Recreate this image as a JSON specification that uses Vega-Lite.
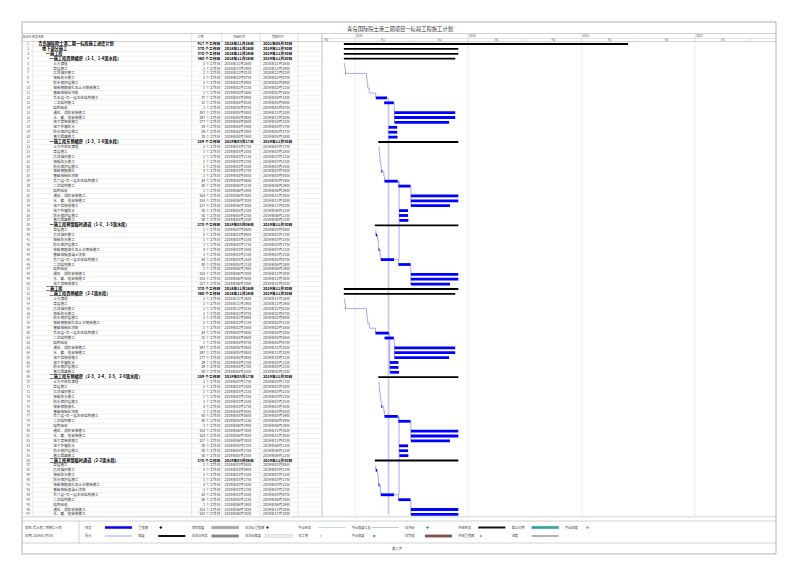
{
"$schema":"https://vega.github.io/schema/vega-lite/v6.json",
"width":800,"height":566,"autosize":{"type":"none"},"padding":0,"background":"white",
"config":{"view":{"stroke":null},"font":"Noto Sans CJK SC","text":{"font":"Noto Sans CJK SC"}},
"resolve":{"scale":{"x":"independent","y":"independent","color":"independent","strokeWidth":"independent"}},
"datasets":{
"tasks":[
{"row":1,"name":"青岛国际院士港二期一标段施工进度计划","lv":0,"dur":"917 个工作日","start":"2018-11-26","end":"2021-05-30","sum":true},
{"row":2,"name":"地下部分施工","lv":1,"dur":"370 个工作日","start":"2018-11-26","end":"2019-11-30","sum":true},
{"row":3,"name":"一施工段","lv":2,"dur":"370 个工作日","start":"2018-11-26","end":"2019-11-30","sum":true},
{"row":4,"name":"一施工段西侧裙房（1-1、1-4流水段）","lv":3,"dur":"360 个工作日","start":"2018-11-26","end":"2019-11-20","sum":true},
{"row":5,"name":"土方清理","lv":4,"dur":"1 个工作日","start":"2018-11-26","end":"2018-11-26","sum":false},
{"row":6,"name":"垫层施工","lv":4,"dur":"1 个工作日","start":"2018-11-29","end":"2018-11-29","sum":false},
{"row":7,"name":"抗浮锚杆施工","lv":4,"dur":"2 个工作日","start":"2018-12-01","end":"2018-12-02","sum":false},
{"row":8,"name":"筏板防水施工","lv":4,"dur":"1 个工作日","start":"2019-02-07","end":"2019-02-07","sum":false},
{"row":9,"name":"防水保护层施工","lv":4,"dur":"1 个工作日","start":"2019-02-09","end":"2019-02-09","sum":false},
{"row":10,"name":"筏板钢筋绑扎及止水钢板施工","lv":4,"dur":"1 个工作日","start":"2019-02-11","end":"2019-02-11","sum":false},
{"row":11,"name":"基础筏板砼浇筑","lv":4,"dur":"1 个工作日","start":"2019-02-16","end":"2019-02-16","sum":false},
{"row":12,"name":"负五层~负一层主体结构施工","lv":4,"dur":"37 个工作日","start":"2019-03-09","end":"2019-04-14","sum":false},
{"row":13,"name":"二次结构施工","lv":4,"dur":"32 个工作日","start":"2019-04-05","end":"2019-05-06","sum":false},
{"row":14,"name":"结构验收","lv":4,"dur":"1 个工作日","start":"2019-05-07","end":"2019-05-07","sum":false},
{"row":15,"name":"通风、消防安装施工","lv":4,"dur":"197 个工作日","start":"2019-05-08","end":"2019-11-20","sum":false},
{"row":16,"name":"水、暖、电安装施工","lv":4,"dur":"197 个工作日","start":"2019-05-08","end":"2019-11-20","sum":false},
{"row":17,"name":"地下室装修施工","lv":4,"dur":"177 个工作日","start":"2019-05-08","end":"2019-10-31","sum":false},
{"row":18,"name":"地下外墙防水","lv":4,"dur":"29 个工作日","start":"2019-04-19","end":"2019-05-17","sum":false},
{"row":19,"name":"防水保护层施工","lv":4,"dur":"29 个工作日","start":"2019-04-19","end":"2019-05-17","sum":false},
{"row":20,"name":"基坑回填施工","lv":4,"dur":"30 个工作日","start":"2019-04-19","end":"2019-05-18","sum":false},
{"row":21,"name":"一施工段东侧裙房（1-3、1-6流水段）","lv":3,"dur":"259 个工作日","start":"2019-03-17","end":"2019-11-30","sum":true},
{"row":22,"name":"土方开挖及清理","lv":4,"dur":"1 个工作日","start":"2019-03-17","end":"2019-03-17","sum":false},
{"row":23,"name":"垫层施工","lv":4,"dur":"1 个工作日","start":"2019-03-20","end":"2019-03-20","sum":false},
{"row":24,"name":"抗浮锚杆施工","lv":4,"dur":"1 个工作日","start":"2019-03-21","end":"2019-03-21","sum":false},
{"row":25,"name":"筏板防水施工","lv":4,"dur":"1 个工作日","start":"2019-03-23","end":"2019-03-23","sum":false},
{"row":26,"name":"防水保护层施工","lv":4,"dur":"1 个工作日","start":"2019-03-25","end":"2019-03-25","sum":false},
{"row":27,"name":"筏板钢筋绑扎","lv":4,"dur":"4 个工作日","start":"2019-03-27","end":"2019-03-30","sum":false},
{"row":28,"name":"基础筏板砼浇筑","lv":4,"dur":"1 个工作日","start":"2019-04-04","end":"2019-04-04","sum":false},
{"row":29,"name":"负六层~负一层主体结构施工","lv":4,"dur":"44 个工作日","start":"2019-04-06","end":"2019-05-19","sum":false},
{"row":30,"name":"二次结构施工","lv":4,"dur":"40 个工作日","start":"2019-05-21","end":"2019-06-29","sum":false},
{"row":31,"name":"结构验收","lv":4,"dur":"1 个工作日","start":"2019-06-29","end":"2019-06-29","sum":false},
{"row":32,"name":"通风、消防安装施工","lv":4,"dur":"154 个工作日","start":"2019-06-30","end":"2019-11-30","sum":false},
{"row":33,"name":"水、暖、电安装施工","lv":4,"dur":"154 个工作日","start":"2019-06-30","end":"2019-11-30","sum":false},
{"row":34,"name":"地下室装修施工","lv":4,"dur":"127 个工作日","start":"2019-06-30","end":"2019-11-03","sum":false},
{"row":35,"name":"地下外墙防水","lv":4,"dur":"30 个工作日","start":"2019-05-23","end":"2019-06-21","sum":false},
{"row":36,"name":"防水保护层施工","lv":4,"dur":"30 个工作日","start":"2019-05-23","end":"2019-06-21","sum":false},
{"row":37,"name":"基坑回填施工","lv":4,"dur":"30 个工作日","start":"2019-05-24","end":"2019-06-22","sum":false},
{"row":38,"name":"一施工段预留临时通道（1-2、1-5流水段）","lv":3,"dur":"270 个工作日","start":"2019-03-06","end":"2019-11-30","sum":true},
{"row":39,"name":"垫层施工","lv":4,"dur":"1 个工作日","start":"2019-03-08","end":"2019-03-08","sum":false},
{"row":40,"name":"抗浮锚杆施工","lv":4,"dur":"5 个工作日","start":"2019-03-09","end":"2019-03-13","sum":false},
{"row":41,"name":"筏板防水施工","lv":4,"dur":"1 个工作日","start":"2019-03-15","end":"2019-03-15","sum":false},
{"row":42,"name":"防水保护层施工","lv":4,"dur":"1 个工作日","start":"2019-03-17","end":"2019-03-17","sum":false},
{"row":43,"name":"筏板钢筋绑扎及止水钢板施工","lv":4,"dur":"4 个工作日","start":"2019-03-18","end":"2019-03-21","sum":false},
{"row":44,"name":"基础筏板混凝土浇筑","lv":4,"dur":"1 个工作日","start":"2019-03-23","end":"2019-03-23","sum":false},
{"row":45,"name":"负六层~负一层主体结构施工","lv":4,"dur":"44 个工作日","start":"2019-03-25","end":"2019-05-07","sum":false},
{"row":46,"name":"二次结构施工","lv":4,"dur":"40 个工作日","start":"2019-05-21","end":"2019-06-29","sum":false},
{"row":47,"name":"结构验收","lv":4,"dur":"1 个工作日","start":"2019-06-29","end":"2019-06-29","sum":false},
{"row":48,"name":"通风、消防安装施工","lv":4,"dur":"154 个工作日","start":"2019-06-30","end":"2019-11-30","sum":false},
{"row":49,"name":"水、暖、电安装施工","lv":4,"dur":"154 个工作日","start":"2019-06-30","end":"2019-11-30","sum":false},
{"row":50,"name":"地下室装修施工","lv":4,"dur":"127 个工作日","start":"2019-06-30","end":"2019-11-03","sum":false},
{"row":51,"name":"二施工段","lv":2,"dur":"370 个工作日","start":"2018-11-26","end":"2019-11-30","sum":true},
{"row":52,"name":"二施工段西侧裙房（2-1流水段）","lv":3,"dur":"360 个工作日","start":"2018-11-26","end":"2019-11-20","sum":true},
{"row":53,"name":"土方清理","lv":4,"dur":"1 个工作日","start":"2018-11-26","end":"2018-11-26","sum":false},
{"row":54,"name":"垫层施工","lv":4,"dur":"1 个工作日","start":"2018-11-29","end":"2018-11-29","sum":false},
{"row":55,"name":"抗浮锚杆施工","lv":4,"dur":"2 个工作日","start":"2018-12-01","end":"2018-12-02","sum":false},
{"row":56,"name":"筏板防水施工","lv":4,"dur":"1 个工作日","start":"2019-02-07","end":"2019-02-07","sum":false},
{"row":57,"name":"防水保护层施工","lv":4,"dur":"1 个工作日","start":"2019-02-09","end":"2019-02-09","sum":false},
{"row":58,"name":"筏板钢筋绑扎及止水钢板施工","lv":4,"dur":"1 个工作日","start":"2019-02-11","end":"2019-02-11","sum":false},
{"row":59,"name":"基础筏板砼浇筑","lv":4,"dur":"1 个工作日","start":"2019-02-16","end":"2019-02-16","sum":false},
{"row":60,"name":"负五层~负一层主体结构施工","lv":4,"dur":"44 个工作日","start":"2019-03-08","end":"2019-04-20","sum":false},
{"row":61,"name":"二次结构施工","lv":4,"dur":"32 个工作日","start":"2019-04-06","end":"2019-05-06","sum":false},
{"row":62,"name":"结构验收","lv":4,"dur":"1 个工作日","start":"2019-05-07","end":"2019-05-07","sum":false},
{"row":63,"name":"通风、消防安装施工","lv":4,"dur":"197 个工作日","start":"2019-05-08","end":"2019-11-20","sum":false},
{"row":64,"name":"水、暖、电安装施工","lv":4,"dur":"197 个工作日","start":"2019-05-08","end":"2019-11-20","sum":false},
{"row":65,"name":"地下室装修施工","lv":4,"dur":"177 个工作日","start":"2019-05-08","end":"2019-10-31","sum":false},
{"row":66,"name":"地下外墙防水","lv":4,"dur":"29 个工作日","start":"2019-04-23","end":"2019-05-21","sum":false},
{"row":67,"name":"防水保护层施工","lv":4,"dur":"29 个工作日","start":"2019-04-23","end":"2019-05-21","sum":false},
{"row":68,"name":"基坑回填施工","lv":4,"dur":"30 个工作日","start":"2019-04-24","end":"2019-05-23","sum":false},
{"row":69,"name":"二施工段东侧裙房（2-3、2-4、2-5、2-6流水段）","lv":3,"dur":"259 个工作日","start":"2019-03-17","end":"2019-11-30","sum":true},
{"row":70,"name":"土方开挖及清理","lv":4,"dur":"1 个工作日","start":"2019-03-17","end":"2019-03-17","sum":false},
{"row":71,"name":"垫层施工","lv":4,"dur":"1 个工作日","start":"2019-03-20","end":"2019-03-20","sum":false},
{"row":72,"name":"抗浮锚杆施工","lv":4,"dur":"1 个工作日","start":"2019-03-21","end":"2019-03-21","sum":false},
{"row":73,"name":"筏板防水施工","lv":4,"dur":"1 个工作日","start":"2019-03-23","end":"2019-03-23","sum":false},
{"row":74,"name":"防水保护层施工","lv":4,"dur":"1 个工作日","start":"2019-03-25","end":"2019-03-25","sum":false},
{"row":75,"name":"筏板钢筋绑扎","lv":4,"dur":"4 个工作日","start":"2019-03-27","end":"2019-03-30","sum":false},
{"row":76,"name":"基础筏板砼浇筑","lv":4,"dur":"1 个工作日","start":"2019-04-04","end":"2019-04-04","sum":false},
{"row":77,"name":"负六层~负一层主体结构施工","lv":4,"dur":"44 个工作日","start":"2019-04-06","end":"2019-05-19","sum":false},
{"row":78,"name":"二次结构施工","lv":4,"dur":"40 个工作日","start":"2019-05-21","end":"2019-06-29","sum":false},
{"row":79,"name":"结构验收","lv":4,"dur":"1 个工作日","start":"2019-06-29","end":"2019-06-29","sum":false},
{"row":80,"name":"通风、消防安装施工","lv":4,"dur":"154 个工作日","start":"2019-06-30","end":"2019-11-30","sum":false},
{"row":81,"name":"水、暖、电安装施工","lv":4,"dur":"154 个工作日","start":"2019-06-30","end":"2019-11-30","sum":false},
{"row":82,"name":"地下室装修施工","lv":4,"dur":"127 个工作日","start":"2019-06-30","end":"2019-11-03","sum":false},
{"row":83,"name":"地下外墙防水","lv":4,"dur":"30 个工作日","start":"2019-05-23","end":"2019-06-21","sum":false},
{"row":84,"name":"防水保护层施工","lv":4,"dur":"30 个工作日","start":"2019-05-23","end":"2019-06-21","sum":false},
{"row":85,"name":"基坑回填施工","lv":4,"dur":"30 个工作日","start":"2019-05-24","end":"2019-06-22","sum":false},
{"row":86,"name":"二施工段预留临时通道（2-2流水段）","lv":3,"dur":"270 个工作日","start":"2019-03-06","end":"2019-11-30","sum":true},
{"row":87,"name":"垫层施工","lv":4,"dur":"1 个工作日","start":"2019-03-08","end":"2019-03-08","sum":false},
{"row":88,"name":"抗浮锚杆施工","lv":4,"dur":"5 个工作日","start":"2019-03-09","end":"2019-03-13","sum":false},
{"row":89,"name":"筏板防水施工","lv":4,"dur":"1 个工作日","start":"2019-03-15","end":"2019-03-15","sum":false},
{"row":90,"name":"防水保护层施工","lv":4,"dur":"1 个工作日","start":"2019-03-17","end":"2019-03-17","sum":false},
{"row":91,"name":"筏板钢筋绑扎及止水钢板施工","lv":4,"dur":"4 个工作日","start":"2019-03-18","end":"2019-03-21","sum":false},
{"row":92,"name":"基础筏板混凝土浇筑","lv":4,"dur":"1 个工作日","start":"2019-03-23","end":"2019-03-23","sum":false},
{"row":93,"name":"负六层~负一层主体结构施工","lv":4,"dur":"44 个工作日","start":"2019-03-25","end":"2019-05-07","sum":false},
{"row":94,"name":"二次结构施工","lv":4,"dur":"40 个工作日","start":"2019-05-21","end":"2019-06-29","sum":false},
{"row":95,"name":"结构验收","lv":4,"dur":"1 个工作日","start":"2019-06-29","end":"2019-06-29","sum":false},
{"row":96,"name":"通风、消防安装施工","lv":4,"dur":"154 个工作日","start":"2019-06-30","end":"2019-11-30","sum":false},
{"row":97,"name":"水、暖、电安装施工","lv":4,"dur":"154 个工作日","start":"2019-06-30","end":"2019-11-30","sum":false}
],
"links":[
{"d1":"2018-11-27","d2":"2018-11-29","r1":5,"r2":6,"k":"a"},
{"d1":"2018-11-30","d2":"2018-12-01","r1":6,"r2":7,"k":"a"},
{"d1":"2018-12-03","d2":"2019-02-07","r1":7,"r2":8,"k":"a"},
{"d1":"2019-02-08","d2":"2019-02-09","r1":8,"r2":9,"k":"a"},
{"d1":"2019-02-10","d2":"2019-02-11","r1":9,"r2":10,"k":"a"},
{"d1":"2019-02-12","d2":"2019-02-16","r1":10,"r2":11,"k":"a"},
{"d1":"2019-02-17","d2":"2019-03-09","r1":11,"r2":12,"k":"a"},
{"d1":"2019-05-07","d2":"2019-05-07","r1":13,"r2":14,"k":"a"},
{"d1":"2019-05-08","d2":"2019-05-08","r1":14,"r2":17,"k":"a"},
{"d1":"2019-04-15","d2":"2019-04-19","r1":12,"r2":97,"k":"b"},
{"d1":"2019-03-18","d2":"2019-03-20","r1":22,"r2":23,"k":"a"},
{"d1":"2019-03-21","d2":"2019-03-21","r1":23,"r2":24,"k":"a"},
{"d1":"2019-03-22","d2":"2019-03-23","r1":24,"r2":25,"k":"a"},
{"d1":"2019-03-24","d2":"2019-03-25","r1":25,"r2":26,"k":"a"},
{"d1":"2019-03-26","d2":"2019-03-27","r1":26,"r2":27,"k":"a"},
{"d1":"2019-03-31","d2":"2019-04-04","r1":27,"r2":28,"k":"a"},
{"d1":"2019-04-05","d2":"2019-04-06","r1":28,"r2":29,"k":"a"},
{"d1":"2019-05-20","d2":"2019-05-21","r1":29,"r2":30,"k":"a"},
{"d1":"2019-06-30","d2":"2019-06-30","r1":30,"r2":31,"k":"a"},
{"d1":"2019-06-30","d2":"2019-06-30","r1":31,"r2":34,"k":"a"},
{"d1":"2019-05-20","d2":"2019-05-23","r1":29,"r2":45,"k":"a"},
{"d1":"2019-03-09","d2":"2019-03-09","r1":39,"r2":40,"k":"a"},
{"d1":"2019-03-14","d2":"2019-03-15","r1":40,"r2":41,"k":"a"},
{"d1":"2019-03-16","d2":"2019-03-17","r1":41,"r2":42,"k":"a"},
{"d1":"2019-03-18","d2":"2019-03-18","r1":42,"r2":43,"k":"a"},
{"d1":"2019-03-22","d2":"2019-03-23","r1":43,"r2":44,"k":"a"},
{"d1":"2019-03-24","d2":"2019-03-25","r1":44,"r2":45,"k":"a"},
{"d1":"2019-05-08","d2":"2019-05-21","r1":45,"r2":46,"k":"a"},
{"d1":"2019-06-30","d2":"2019-06-30","r1":46,"r2":47,"k":"a"},
{"d1":"2019-06-30","d2":"2019-06-30","r1":47,"r2":50,"k":"a"},
{"d1":"2018-11-27","d2":"2018-11-29","r1":53,"r2":54,"k":"a"},
{"d1":"2018-11-30","d2":"2018-12-01","r1":54,"r2":55,"k":"a"},
{"d1":"2018-12-03","d2":"2019-02-07","r1":55,"r2":56,"k":"a"},
{"d1":"2019-02-08","d2":"2019-02-09","r1":56,"r2":57,"k":"a"},
{"d1":"2019-02-10","d2":"2019-02-11","r1":57,"r2":58,"k":"a"},
{"d1":"2019-02-12","d2":"2019-02-16","r1":58,"r2":59,"k":"a"},
{"d1":"2019-02-17","d2":"2019-03-08","r1":59,"r2":60,"k":"a"},
{"d1":"2019-05-07","d2":"2019-05-07","r1":61,"r2":62,"k":"a"},
{"d1":"2019-05-08","d2":"2019-05-08","r1":62,"r2":65,"k":"a"},
{"d1":"2019-04-21","d2":"2019-04-23","r1":60,"r2":68,"k":"a"},
{"d1":"2019-03-18","d2":"2019-03-20","r1":70,"r2":71,"k":"a"},
{"d1":"2019-03-21","d2":"2019-03-21","r1":71,"r2":72,"k":"a"},
{"d1":"2019-03-22","d2":"2019-03-23","r1":72,"r2":73,"k":"a"},
{"d1":"2019-03-24","d2":"2019-03-25","r1":73,"r2":74,"k":"a"},
{"d1":"2019-03-26","d2":"2019-03-27","r1":74,"r2":75,"k":"a"},
{"d1":"2019-03-31","d2":"2019-04-04","r1":75,"r2":76,"k":"a"},
{"d1":"2019-04-05","d2":"2019-04-06","r1":76,"r2":77,"k":"a"},
{"d1":"2019-05-20","d2":"2019-05-21","r1":77,"r2":78,"k":"a"},
{"d1":"2019-06-30","d2":"2019-06-30","r1":78,"r2":79,"k":"a"},
{"d1":"2019-06-30","d2":"2019-06-30","r1":79,"r2":82,"k":"a"},
{"d1":"2019-05-20","d2":"2019-05-23","r1":77,"r2":93,"k":"a"},
{"d1":"2019-03-09","d2":"2019-03-09","r1":87,"r2":88,"k":"a"},
{"d1":"2019-03-14","d2":"2019-03-15","r1":88,"r2":89,"k":"a"},
{"d1":"2019-03-16","d2":"2019-03-17","r1":89,"r2":90,"k":"a"},
{"d1":"2019-03-18","d2":"2019-03-18","r1":90,"r2":91,"k":"a"},
{"d1":"2019-03-22","d2":"2019-03-23","r1":91,"r2":92,"k":"a"},
{"d1":"2019-03-24","d2":"2019-03-25","r1":92,"r2":93,"k":"a"},
{"d1":"2019-05-08","d2":"2019-05-21","r1":93,"r2":94,"k":"a"},
{"d1":"2019-06-30","d2":"2019-06-30","r1":94,"r2":95,"k":"a"},
{"d1":"2019-06-30","d2":"2019-06-30","r1":95,"r2":97,"k":"a"}
],
"years":[{"d":"2019-01-01","yr":"2019"},{"d":"2020-01-01","yr":"2020"},{"d":"2021-01-01","yr":"2021"},{"d":"2022-01-01","yr":"2022"}],
"halves":[{"d":"2018-10-01","h":"H2"},{"d":"2019-04-01","h":"H1"},{"d":"2019-10-01","h":"H2"},{"d":"2020-04-01","h":"H1"},{"d":"2020-10-01","h":"H2"},{"d":"2021-04-01","h":"H1"},{"d":"2021-10-01","h":"H2"},{"d":"2022-04-01","h":"H1"}],
"halfb":[{"d":"2019-07-01"},{"d":"2020-07-01"},{"d":"2021-07-01"},{"d":"2022-07-01"}],
"legend":[
{"c":0,"lr":1,"label":"任务","sym":"bar"},
{"c":0,"lr":2,"label":"拆分","sym":"dot"},
{"c":1,"lr":1,"label":"里程碑","sym":"dia"},
{"c":1,"lr":2,"label":"摘要","sym":"sum"},
{"c":2,"lr":1,"label":"项目摘要","sym":"bar"},
{"c":2,"lr":2,"label":"非活动任务","sym":"bar"},
{"c":3,"lr":1,"label":"非活动里程碑","sym":"dia"},
{"c":3,"lr":2,"label":"非活动摘要","sym":"bar"},
{"c":4,"lr":1,"label":"手动任务","sym":"dot"},
{"c":4,"lr":2,"label":"仅工期","sym":"dia"},
{"c":5,"lr":1,"label":"手动摘要汇总","sym":"dot"},
{"c":5,"lr":2,"label":"手动摘要","sym":"dia"},
{"c":6,"lr":1,"label":"仅开始","sym":"dia"},
{"c":6,"lr":2,"label":"仅完成","sym":"bar"},
{"c":7,"lr":1,"label":"外部任务","sym":"sum"},
{"c":7,"lr":2,"label":"外部里程碑","sym":"dia"},
{"c":8,"lr":1,"label":"截止日期","sym":"bar"},
{"c":8,"lr":2,"label":"进度","sym":"line"},
{"c":9,"lr":1,"label":"手动进度","sym":"dia"}
],
"info":[{"lr":1,"t":"项目: 院士港二期施工计划"},{"lr":2,"t":"日期: 2019年1月5日"}]
},
"layer":[
{"data":{"values":[{}]},"mark":{"type":"rect","fill":"transparent","stroke":"#a0a0a0","strokeWidth":0.8},"encoding":{"x":{"datum":22,"type":"quantitative","scale":{"domain":[0,800],"nice":false,"zero":false},"axis":null},"x2":{"datum":776},"y":{"datum":-3.49,"type":"quantitative","scale":{"domain":[-7.9796,107.5306],"reverse":true,"nice":false,"zero":false},"axis":null},"y2":{"datum":105.08}}},
{"data":{"values":[{}]},"mark":{"type":"rule","color":"#b4b4b4","strokeWidth":0.6},"encoding":{"x":{"datum":22,"type":"quantitative","scale":{"domain":[0,800],"nice":false,"zero":false},"axis":null},"x2":{"datum":776},"y":{"datum":-1.143,"type":"quantitative","scale":{"domain":[-7.9796,107.5306],"reverse":true,"nice":false,"zero":false},"axis":null}}},
{"data":{"values":[{}]},"mark":{"type":"rule","color":"#b4b4b4","strokeWidth":0.6},"encoding":{"x":{"datum":22,"type":"quantitative","scale":{"domain":[0,800],"nice":false,"zero":false},"axis":null},"x2":{"datum":776},"y":{"datum":0.49,"type":"quantitative","scale":{"domain":[-7.9796,107.5306],"reverse":true,"nice":false,"zero":false},"axis":null}}},
{"data":{"values":[{}]},"mark":{"type":"rule","color":"#c8c8c8","strokeWidth":0.5},"encoding":{"x":{"datum":322,"type":"quantitative","scale":{"domain":[0,800],"nice":false,"zero":false},"axis":null},"x2":{"datum":776},"y":{"datum":-0.122,"type":"quantitative","scale":{"domain":[-7.9796,107.5306],"reverse":true,"nice":false,"zero":false},"axis":null}}},
{"data":{"values":[{}]},"mark":{"type":"rule","color":"#b4b4b4","strokeWidth":0.6},"encoding":{"x":{"datum":22,"type":"quantitative","scale":{"domain":[0,800],"nice":false,"zero":false},"axis":null},"x2":{"datum":776},"y":{"datum":97.5,"type":"quantitative","scale":{"domain":[-7.9796,107.5306],"reverse":true,"nice":false,"zero":false},"axis":null}}},
{"data":{"values":[{}]},"mark":{"type":"rule","color":"#b4b4b4","strokeWidth":0.6},"encoding":{"x":{"datum":22,"type":"quantitative","scale":{"domain":[0,800],"nice":false,"zero":false},"axis":null},"x2":{"datum":776},"y":{"datum":98.35,"type":"quantitative","scale":{"domain":[-7.9796,107.5306],"reverse":true,"nice":false,"zero":false},"axis":null}}},
{"data":{"values":[{}]},"mark":{"type":"rule","color":"#b4b4b4","strokeWidth":0.6},"encoding":{"x":{"datum":22,"type":"quantitative","scale":{"domain":[0,800],"nice":false,"zero":false},"axis":null},"x2":{"datum":776},"y":{"datum":102.84,"type":"quantitative","scale":{"domain":[-7.9796,107.5306],"reverse":true,"nice":false,"zero":false},"axis":null}}},
{"data":{"values":[{}]},"mark":{"type":"rule","color":"#c8c8c8","strokeWidth":0.5},"encoding":{"x":{"datum":33,"type":"quantitative","scale":{"domain":[0,800],"nice":false,"zero":false},"axis":null},"y":{"datum":-1.143,"type":"quantitative","scale":{"domain":[-7.9796,107.5306],"reverse":true,"nice":false,"zero":false},"axis":null},"y2":{"datum":97.5}}},
{"data":{"values":[{}]},"mark":{"type":"rule","color":"#c8c8c8","strokeWidth":0.5},"encoding":{"x":{"datum":191.7,"type":"quantitative","scale":{"domain":[0,800],"nice":false,"zero":false},"axis":null},"y":{"datum":-1.143,"type":"quantitative","scale":{"domain":[-7.9796,107.5306],"reverse":true,"nice":false,"zero":false},"axis":null},"y2":{"datum":97.5}}},
{"data":{"values":[{}]},"mark":{"type":"rule","color":"#c8c8c8","strokeWidth":0.5},"encoding":{"x":{"datum":221.7,"type":"quantitative","scale":{"domain":[0,800],"nice":false,"zero":false},"axis":null},"y":{"datum":-1.143,"type":"quantitative","scale":{"domain":[-7.9796,107.5306],"reverse":true,"nice":false,"zero":false},"axis":null},"y2":{"datum":97.5}}},
{"data":{"values":[{}]},"mark":{"type":"rule","color":"#c8c8c8","strokeWidth":0.5},"encoding":{"x":{"datum":260,"type":"quantitative","scale":{"domain":[0,800],"nice":false,"zero":false},"axis":null},"y":{"datum":-1.143,"type":"quantitative","scale":{"domain":[-7.9796,107.5306],"reverse":true,"nice":false,"zero":false},"axis":null},"y2":{"datum":97.5}}},
{"data":{"values":[{}]},"mark":{"type":"rule","color":"#c8c8c8","strokeWidth":0.5},"encoding":{"x":{"datum":298,"type":"quantitative","scale":{"domain":[0,800],"nice":false,"zero":false},"axis":null},"y":{"datum":-1.143,"type":"quantitative","scale":{"domain":[-7.9796,107.5306],"reverse":true,"nice":false,"zero":false},"axis":null},"y2":{"datum":97.5}}},
{"data":{"values":[{}]},"mark":{"type":"rule","color":"#a8a8a8","strokeWidth":0.7},"encoding":{"x":{"datum":322,"type":"quantitative","scale":{"domain":[0,800],"nice":false,"zero":false},"axis":null},"y":{"datum":-1.143,"type":"quantitative","scale":{"domain":[-7.9796,107.5306],"reverse":true,"nice":false,"zero":false},"axis":null},"y2":{"datum":97.5}}},
{"data":{"values":[{}]},"mark":{"type":"rule","color":"#b4b4b4","strokeWidth":0.6},"encoding":{"x":{"datum":79,"type":"quantitative","scale":{"domain":[0,800],"nice":false,"zero":false},"axis":null},"y":{"datum":98.35,"type":"quantitative","scale":{"domain":[-7.9796,107.5306],"reverse":true,"nice":false,"zero":false},"axis":null},"y2":{"datum":102.84}}},
{"data":{"values":[{}]},"mark":{"type":"text","fontSize":5.3,"color":"#333","align":"center","baseline":"middle"},"encoding":{"x":{"datum":400,"type":"quantitative","scale":{"domain":[0,800],"nice":false,"zero":false},"axis":null},"y":{"datum":-1.96,"type":"quantitative","scale":{"domain":[-7.9796,107.5306],"reverse":true,"nice":false,"zero":false},"axis":null},"text":{"value":"青岛国际院士港二期项目一标段工程施工计划"}}},
{"data":{"values":[{}]},"mark":{"type":"text","fontSize":2.9,"color":"#444","align":"left","baseline":"middle"},"encoding":{"x":{"datum":22.8,"type":"quantitative","scale":{"domain":[0,800],"nice":false,"zero":false},"axis":null},"y":{"datum":-0.33,"type":"quantitative","scale":{"domain":[-7.9796,107.5306],"reverse":true,"nice":false,"zero":false},"axis":null},"text":{"value":"标识号 任务名称"}}},
{"data":{"values":[{}]},"mark":{"type":"text","fontSize":2.9,"color":"#444","align":"center","baseline":"middle"},"encoding":{"x":{"datum":200.5,"type":"quantitative","scale":{"domain":[0,800],"nice":false,"zero":false},"axis":null},"y":{"datum":-0.33,"type":"quantitative","scale":{"domain":[-7.9796,107.5306],"reverse":true,"nice":false,"zero":false},"axis":null},"text":{"value":"工期"}}},
{"data":{"values":[{}]},"mark":{"type":"text","fontSize":2.9,"color":"#444","align":"center","baseline":"middle"},"encoding":{"x":{"datum":239,"type":"quantitative","scale":{"domain":[0,800],"nice":false,"zero":false},"axis":null},"y":{"datum":-0.33,"type":"quantitative","scale":{"domain":[-7.9796,107.5306],"reverse":true,"nice":false,"zero":false},"axis":null},"text":{"value":"开始时间"}}},
{"data":{"values":[{}]},"mark":{"type":"text","fontSize":2.9,"color":"#444","align":"center","baseline":"middle"},"encoding":{"x":{"datum":277.5,"type":"quantitative","scale":{"domain":[0,800],"nice":false,"zero":false},"axis":null},"y":{"datum":-0.33,"type":"quantitative","scale":{"domain":[-7.9796,107.5306],"reverse":true,"nice":false,"zero":false},"axis":null},"text":{"value":"完成时间"}}},
{"data":{"name":"tasks"},"mark":{"type":"rule","color":"#e2e2e2","strokeWidth":0.5,"yOffset":2.45},"encoding":{"x":{"datum":22,"type":"quantitative","scale":{"domain":[0,800],"nice":false,"zero":false},"axis":null},"x2":{"datum":322},"y":{"field":"row","type":"quantitative","scale":{"domain":[-7.9796,107.5306],"reverse":true,"nice":false,"zero":false},"axis":null}}},
{"data":{"name":"tasks"},"mark":{"type":"text","fontSize":3.2,"color":"#555","align":"center","baseline":"middle"},"encoding":{"x":{"datum":28.2,"type":"quantitative","scale":{"domain":[0,800],"nice":false,"zero":false},"axis":null},"y":{"field":"row","type":"quantitative","scale":{"domain":[-7.9796,107.5306],"reverse":true,"nice":false,"zero":false},"axis":null},"text":{"field":"row","type":"quantitative"}}},
{"data":{"name":"tasks"},"transform":[{"filter":"!datum.sum"}],"mark":{"type":"text","fontSize":3.6,"color":"#333","align":"left","baseline":"middle"},"encoding":{"x":{"field":"lv","type":"quantitative","scale":{"domain":[0,4],"range":[38.3,53.2],"nice":false,"zero":false},"axis":null},"y":{"field":"row","type":"quantitative","scale":{"domain":[-7.9796,107.5306],"reverse":true,"nice":false,"zero":false},"axis":null},"text":{"field":"name","type":"nominal"}}},
{"data":{"name":"tasks"},"transform":[{"filter":"datum.sum"}],"mark":{"type":"text","fontSize":4.2,"fontWeight":"bold","color":"#000","align":"left","baseline":"middle"},"encoding":{"x":{"field":"lv","type":"quantitative","scale":{"domain":[0,4],"range":[38.3,53.2],"nice":false,"zero":false},"axis":null},"y":{"field":"row","type":"quantitative","scale":{"domain":[-7.9796,107.5306],"reverse":true,"nice":false,"zero":false},"axis":null},"text":{"field":"name","type":"nominal"}}},
{"data":{"name":"tasks"},"transform":[{"filter":"!datum.sum"}],"mark":{"type":"text","fontSize":3.6,"color":"#333","align":"right","baseline":"middle"},"encoding":{"x":{"datum":220.3,"type":"quantitative","scale":{"domain":[0,800],"nice":false,"zero":false},"axis":null},"y":{"field":"row","type":"quantitative","scale":{"domain":[-7.9796,107.5306],"reverse":true,"nice":false,"zero":false},"axis":null},"text":{"field":"dur","type":"nominal"}}},
{"data":{"name":"tasks"},"transform":[{"filter":"datum.sum"}],"mark":{"type":"text","fontSize":3.8,"fontWeight":"bold","color":"#000","align":"right","baseline":"middle"},"encoding":{"x":{"datum":220.3,"type":"quantitative","scale":{"domain":[0,800],"nice":false,"zero":false},"axis":null},"y":{"field":"row","type":"quantitative","scale":{"domain":[-7.9796,107.5306],"reverse":true,"nice":false,"zero":false},"axis":null},"text":{"field":"dur","type":"nominal"}}},
{"data":{"name":"tasks"},"transform":[{"filter":"!datum.sum"}],"mark":{"type":"text","fontSize":3.6,"color":"#333","align":"left","baseline":"middle"},"encoding":{"x":{"datum":224.5,"type":"quantitative","scale":{"domain":[0,800],"nice":false,"zero":false},"axis":null},"y":{"field":"row","type":"quantitative","scale":{"domain":[-7.9796,107.5306],"reverse":true,"nice":false,"zero":false},"axis":null},"text":{"field":"start","type":"temporal","timeUnit":"utcyearmonthdate","format":"%Y年%m月%d日"}}},
{"data":{"name":"tasks"},"transform":[{"filter":"datum.sum"}],"mark":{"type":"text","fontSize":3.8,"fontWeight":"bold","color":"#000","align":"left","baseline":"middle"},"encoding":{"x":{"datum":224.5,"type":"quantitative","scale":{"domain":[0,800],"nice":false,"zero":false},"axis":null},"y":{"field":"row","type":"quantitative","scale":{"domain":[-7.9796,107.5306],"reverse":true,"nice":false,"zero":false},"axis":null},"text":{"field":"start","type":"temporal","timeUnit":"utcyearmonthdate","format":"%Y年%m月%d日"}}},
{"data":{"name":"tasks"},"transform":[{"filter":"!datum.sum"}],"mark":{"type":"text","fontSize":3.6,"color":"#333","align":"left","baseline":"middle"},"encoding":{"x":{"datum":263,"type":"quantitative","scale":{"domain":[0,800],"nice":false,"zero":false},"axis":null},"y":{"field":"row","type":"quantitative","scale":{"domain":[-7.9796,107.5306],"reverse":true,"nice":false,"zero":false},"axis":null},"text":{"field":"end","type":"temporal","timeUnit":"utcyearmonthdate","format":"%Y年%m月%d日"}}},
{"data":{"name":"tasks"},"transform":[{"filter":"datum.sum"}],"mark":{"type":"text","fontSize":3.8,"fontWeight":"bold","color":"#000","align":"left","baseline":"middle"},"encoding":{"x":{"datum":263,"type":"quantitative","scale":{"domain":[0,800],"nice":false,"zero":false},"axis":null},"y":{"field":"row","type":"quantitative","scale":{"domain":[-7.9796,107.5306],"reverse":true,"nice":false,"zero":false},"axis":null},"text":{"field":"end","type":"temporal","timeUnit":"utcyearmonthdate","format":"%Y年%m月%d日"}}},
{"data":{"name":"years"},"mark":{"type":"rule","color":"#c4c4c4","strokeWidth":0.6,"strokeDash":[2,2]},"encoding":{"x":{"field":"d","type":"temporal","scale":{"type":"utc","domain":[{"year":2015,"month":11,"date":14,"utc":true},{"year":2022,"month":12,"date":5,"utc":true}],"nice":false},"axis":null},"y":{"datum":0.49,"type":"quantitative","scale":{"domain":[-7.9796,107.5306],"reverse":true,"nice":false,"zero":false},"axis":null},"y2":{"datum":97.5}}},
{"data":{"name":"years"},"mark":{"type":"rule","color":"#c0c0c0","strokeWidth":0.5},"encoding":{"x":{"field":"d","type":"temporal","scale":{"type":"utc","domain":[{"year":2015,"month":11,"date":14,"utc":true},{"year":2022,"month":12,"date":5,"utc":true}],"nice":false},"axis":null},"y":{"datum":-1.143,"type":"quantitative","scale":{"domain":[-7.9796,107.5306],"reverse":true,"nice":false,"zero":false},"axis":null},"y2":{"datum":0.49}}},
{"data":{"name":"halfb"},"mark":{"type":"rule","color":"#c8c8c8","strokeWidth":0.5},"encoding":{"x":{"field":"d","type":"temporal","scale":{"type":"utc","domain":[{"year":2015,"month":11,"date":14,"utc":true},{"year":2022,"month":12,"date":5,"utc":true}],"nice":false},"axis":null},"y":{"datum":-0.122,"type":"quantitative","scale":{"domain":[-7.9796,107.5306],"reverse":true,"nice":false,"zero":false},"axis":null},"y2":{"datum":0.49}}},
{"data":{"name":"years"},"mark":{"type":"text","fontSize":2.9,"color":"#555","align":"left","baseline":"middle","dx":1},"encoding":{"x":{"field":"d","type":"temporal","scale":{"type":"utc","domain":[{"year":2015,"month":11,"date":14,"utc":true},{"year":2022,"month":12,"date":5,"utc":true}],"nice":false},"axis":null},"y":{"datum":-0.6,"type":"quantitative","scale":{"domain":[-7.9796,107.5306],"reverse":true,"nice":false,"zero":false},"axis":null},"text":{"field":"yr","type":"nominal"}}},
{"data":{"name":"halves"},"mark":{"type":"text","fontSize":2.9,"color":"#555","align":"center","baseline":"middle"},"encoding":{"x":{"field":"d","type":"temporal","scale":{"type":"utc","domain":[{"year":2015,"month":11,"date":14,"utc":true},{"year":2022,"month":12,"date":5,"utc":true}],"nice":false},"axis":null},"y":{"datum":0.2,"type":"quantitative","scale":{"domain":[-7.9796,107.5306],"reverse":true,"nice":false,"zero":false},"axis":null},"text":{"field":"h","type":"nominal"}}},
{"data":{"name":"links"},"mark":{"type":"rule"},"encoding":{"x":{"field":"d1","type":"temporal","scale":{"type":"utc","domain":[{"year":2015,"month":11,"date":14,"utc":true},{"year":2022,"month":12,"date":5,"utc":true}],"nice":false},"axis":null},"x2":{"field":"d2"},"y":{"field":"r1","type":"quantitative","scale":{"domain":[-7.9796,107.5306],"reverse":true,"nice":false,"zero":false},"axis":null},"color":{"field":"k","type":"nominal","scale":{"domain":["a","b"],"range":["#6c6cee","#cacaf4"]},"legend":null},"strokeWidth":{"field":"k","type":"nominal","scale":{"domain":["a","b"],"range":[0.6,1.8]},"legend":null}}},
{"data":{"name":"links"},"mark":{"type":"rule"},"encoding":{"x":{"field":"d2","type":"temporal","scale":{"type":"utc","domain":[{"year":2015,"month":11,"date":14,"utc":true},{"year":2022,"month":12,"date":5,"utc":true}],"nice":false},"axis":null},"y":{"field":"r1","type":"quantitative","scale":{"domain":[-7.9796,107.5306],"reverse":true,"nice":false,"zero":false},"axis":null},"y2":{"field":"r2"},"color":{"field":"k","type":"nominal","scale":{"domain":["a","b"],"range":["#6c6cee","#cacaf4"]},"legend":null},"strokeWidth":{"field":"k","type":"nominal","scale":{"domain":["a","b"],"range":[0.6,1.8]},"legend":null}}},
{"data":{"name":"tasks"},"transform":[{"filter":"!datum.sum"}],"mark":{"type":"rule","color":"#0000ff","strokeWidth":2.8},"encoding":{"x":{"field":"start","type":"temporal","timeUnit":"utcyearmonthdate","bandPosition":0,"scale":{"type":"utc","domain":[{"year":2015,"month":11,"date":14,"utc":true},{"year":2022,"month":12,"date":5,"utc":true}],"nice":false},"axis":null},"x2":{"field":"end","timeUnit":"utcyearmonthdate","bandPosition":1},"y":{"field":"row","type":"quantitative","scale":{"domain":[-7.9796,107.5306],"reverse":true,"nice":false,"zero":false},"axis":null}}},
{"data":{"name":"tasks"},"transform":[{"filter":"datum.sum"}],"mark":{"type":"rule","color":"#000000","strokeWidth":1.8},"encoding":{"x":{"field":"start","type":"temporal","timeUnit":"utcyearmonthdate","bandPosition":0,"scale":{"type":"utc","domain":[{"year":2015,"month":11,"date":14,"utc":true},{"year":2022,"month":12,"date":5,"utc":true}],"nice":false},"axis":null},"x2":{"field":"end","timeUnit":"utcyearmonthdate","bandPosition":1},"y":{"field":"row","type":"quantitative","scale":{"domain":[-7.9796,107.5306],"reverse":true,"nice":false,"zero":false},"axis":null}}},
{"data":{"name":"tasks"},"transform":[{"filter":"datum.sum"}],"mark":{"type":"point","shape":"triangle-down","filled":true,"color":"#000","size":6,"opacity":1,"yOffset":1.3},"encoding":{"x":{"field":"start","type":"temporal","timeUnit":"utcyearmonthdate","bandPosition":0,"scale":{"type":"utc","domain":[{"year":2015,"month":11,"date":14,"utc":true},{"year":2022,"month":12,"date":5,"utc":true}],"nice":false},"axis":null},"y":{"field":"row","type":"quantitative","scale":{"domain":[-7.9796,107.5306],"reverse":true,"nice":false,"zero":false},"axis":null}}},
{"data":{"name":"tasks"},"transform":[{"filter":"datum.sum"}],"mark":{"type":"point","shape":"triangle-down","filled":true,"color":"#000","size":6,"opacity":1,"yOffset":1.3},"encoding":{"x":{"field":"end","type":"temporal","timeUnit":"utcyearmonthdate","bandPosition":1,"scale":{"type":"utc","domain":[{"year":2015,"month":11,"date":14,"utc":true},{"year":2022,"month":12,"date":5,"utc":true}],"nice":false},"axis":null},"y":{"field":"row","type":"quantitative","scale":{"domain":[-7.9796,107.5306],"reverse":true,"nice":false,"zero":false},"axis":null}}},
{"data":{"name":"legend"},"mark":{"type":"text","fontSize":3.2,"color":"#444","align":"left","baseline":"middle"},"encoding":{"x":{"field":"c","type":"quantitative","scale":{"domain":[0,9],"range":[85,565],"nice":false,"zero":false},"axis":null},"y":{"field":"lr","type":"quantitative","scale":{"domain":[1,2],"range":[527.5,536],"nice":false,"zero":false},"axis":null},"text":{"field":"label","type":"nominal"}}},
{"data":{"name":"legend"},"transform":[{"filter":"datum.sym == 'bar'"}],"mark":{"type":"tick","orient":"horizontal","size":27,"thickness":2.6,"opacity":1,"stroke":"#888","strokeWidth":0.3},"encoding":{"x":{"field":"c","type":"quantitative","scale":{"domain":[0,9],"range":[118.5,598.5],"nice":false,"zero":false},"axis":null},"y":{"field":"lr","type":"quantitative","scale":{"domain":[1,2],"range":[527.5,536],"nice":false,"zero":false},"axis":null},"color":{"field":"label","type":"nominal","scale":{"domain":["任务","项目摘要","非活动任务","非活动摘要","仅完成","截止日期"],"range":["#0000ff","#a8a8a8","#8a8a8a","#f4f4f4","#8b4c4c","#2aa4a4"]},"legend":null}}},
{"data":{"name":"legend"},"transform":[{"filter":"datum.sym == 'dot'"}],"mark":{"type":"tick","orient":"horizontal","size":27,"thickness":0.9,"opacity":1,"strokeDash":[1,1]},"encoding":{"x":{"field":"c","type":"quantitative","scale":{"domain":[0,9],"range":[118.5,598.5],"nice":false,"zero":false},"axis":null},"y":{"field":"lr","type":"quantitative","scale":{"domain":[1,2],"range":[527.5,536],"nice":false,"zero":false},"axis":null},"color":{"field":"label","type":"nominal","scale":{"domain":["拆分","手动任务","手动摘要汇总"],"range":["#9a9aff","#c4cfe0","#a8c8e0"]},"legend":null}}},
{"data":{"name":"legend"},"transform":[{"filter":"datum.sym == 'sum'"}],"mark":{"type":"tick","orient":"horizontal","size":27,"thickness":2,"opacity":1,"color":"#111"},"encoding":{"x":{"field":"c","type":"quantitative","scale":{"domain":[0,9],"range":[118.5,598.5],"nice":false,"zero":false},"axis":null},"y":{"field":"lr","type":"quantitative","scale":{"domain":[1,2],"range":[527.5,536],"nice":false,"zero":false},"axis":null}}},
{"data":{"name":"legend"},"transform":[{"filter":"datum.sym == 'line'"}],"mark":{"type":"tick","orient":"horizontal","size":27,"thickness":0.9,"opacity":1,"color":"#555"},"encoding":{"x":{"field":"c","type":"quantitative","scale":{"domain":[0,9],"range":[118.5,598.5],"nice":false,"zero":false},"axis":null},"y":{"field":"lr","type":"quantitative","scale":{"domain":[1,2],"range":[527.5,536],"nice":false,"zero":false},"axis":null}}},
{"data":{"name":"legend"},"transform":[{"filter":"datum.sym == 'dia'"}],"mark":{"type":"point","shape":"diamond","filled":true,"size":9,"opacity":1},"encoding":{"x":{"field":"c","type":"quantitative","scale":{"domain":[0,9],"range":[107.5,587.5],"nice":false,"zero":false},"axis":null},"y":{"field":"lr","type":"quantitative","scale":{"domain":[1,2],"range":[527.5,536],"nice":false,"zero":false},"axis":null},"color":{"field":"label","type":"nominal","scale":{"domain":["里程碑","非活动里程碑","仅工期","手动摘要","仅开始","外部里程碑","手动进度"],"range":["#000000","#333333","#b8dcdc","#2a9d9d","#2a9d9d","#99aaaa","#6cc06c"]},"legend":null}}},
{"data":{"name":"info"},"mark":{"type":"text","fontSize":3.2,"color":"#444","align":"left","baseline":"middle"},"encoding":{"x":{"datum":25,"type":"quantitative","scale":{"domain":[0,800],"nice":false,"zero":false},"axis":null},"y":{"field":"lr","type":"quantitative","scale":{"domain":[1,2],"range":[527.5,536],"nice":false,"zero":false},"axis":null},"text":{"field":"t","type":"nominal"}}},
{"data":{"values":[{}]},"mark":{"type":"text","fontSize":3.4,"color":"#444","align":"center","baseline":"middle"},"encoding":{"x":{"datum":397,"type":"quantitative","scale":{"domain":[0,800],"nice":false,"zero":false},"axis":null},"y":{"datum":104.06,"type":"quantitative","scale":{"domain":[-7.9796,107.5306],"reverse":true,"nice":false,"zero":false},"axis":null},"text":{"value":"第 1 页"}}}
]
}
